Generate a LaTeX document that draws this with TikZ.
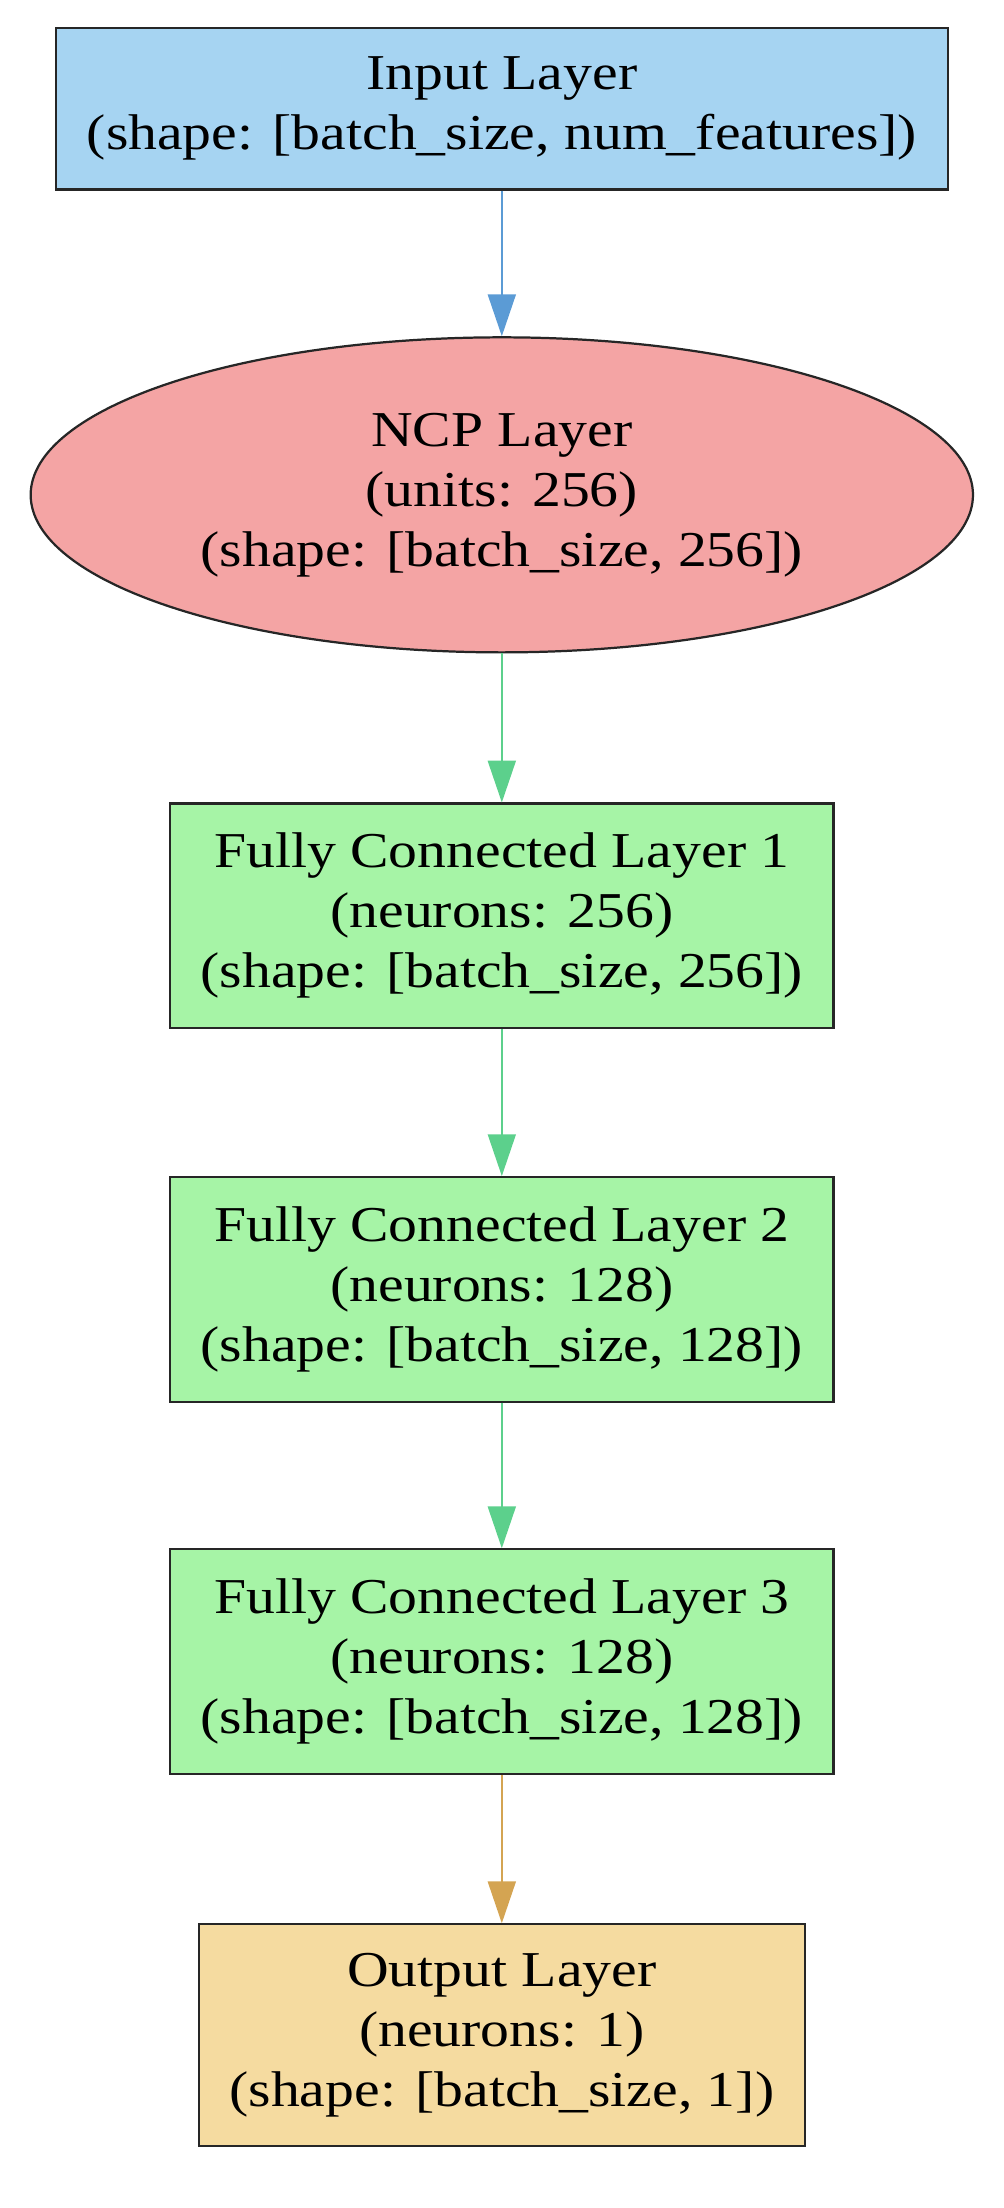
\documentclass[tikz,border=0pt]{standalone}
\usepackage{fontspec}
\setmainfont[FakeStretch=1.15]{Liberation Serif}
\usetikzlibrary{arrows.meta,shapes.geometric}
\definecolor{inblue}{HTML}{A6D4F2}
\definecolor{ncpred}{HTML}{F4A4A4}
\definecolor{fcgreen}{HTML}{A6F4A6}
\definecolor{outorange}{HTML}{F5DBA0}
\definecolor{ablue}{HTML}{5B9BD5}
\definecolor{agreen}{HTML}{5CD08C}
\definecolor{aorange}{HTML}{D4A452}
\tikzset{
  layer/.style={draw=black!85, line width=1.6pt, align=center, inner sep=0pt,
    font=\fontsize{36}{43}\selectfont},
  conn/.style={line width=1.6pt, -{Triangle[width=20pt,length=30pt]}}
}
\begin{document}
\begin{tikzpicture}[x=1pt,y=1pt]
\useasboundingbox (0,0) rectangle (720,-1584);
\node[layer, fill=inblue, minimum width=640pt, minimum height=116pt] (in) at (360,-78)
  {Input Layer\\(shape: [batch\_size, num\_features])};
\node[layer, ellipse, fill=ncpred, minimum width=676pt, minimum height=226pt] (ncp) at (360,-355)
  {NCP Layer\\(units: 256)\\(shape: [batch\_size, 256])};
\node[layer, fill=fcgreen, minimum width=476pt, minimum height=161pt] (fc1) at (360,-657)
  {Fully Connected Layer 1\\(neurons: 256)\\(shape: [batch\_size, 256])};
\node[layer, fill=fcgreen, minimum width=476pt, minimum height=161pt] (fc2) at (360,-925)
  {Fully Connected Layer 2\\(neurons: 128)\\(shape: [batch\_size, 128])};
\node[layer, fill=fcgreen, minimum width=476pt, minimum height=161pt] (fc3) at (360,-1192)
  {Fully Connected Layer 3\\(neurons: 128)\\(shape: [batch\_size, 128])};
\node[layer, fill=outorange, minimum width=435pt, minimum height=159pt] (out) at (360,-1460)
  {Output Layer\\(neurons: 1)\\(shape: [batch\_size, 1])};
\draw[conn, ablue] (in) -- (ncp);
\draw[conn, agreen] (ncp) -- (fc1);
\draw[conn, agreen] (fc1) -- (fc2);
\draw[conn, agreen] (fc2) -- (fc3);
\draw[conn, aorange] (fc3) -- (out);
\end{tikzpicture}
\end{document}
